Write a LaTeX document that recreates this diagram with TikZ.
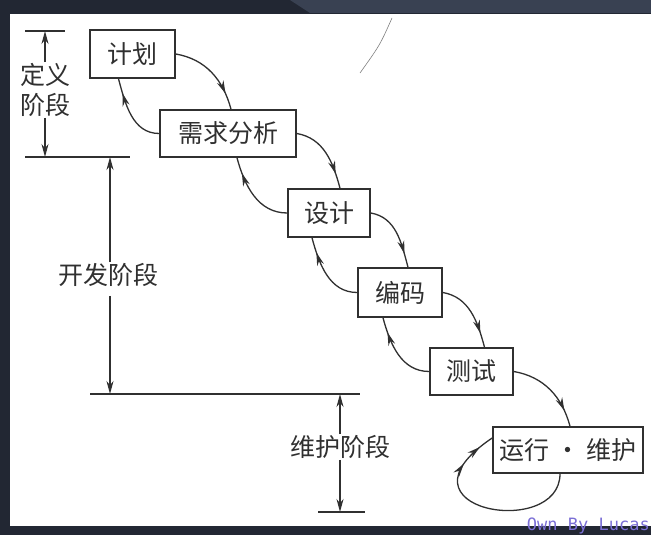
\documentclass[tikz,border=0pt]{standalone}
\usepackage{fontspec}
\newfontfamily\cjk{Noto Sans CJK SC}
\setmonofont{DejaVu Sans Mono}
\usetikzlibrary{arrows.meta,decorations.markings}
\definecolor{framedark}{HTML}{222733}
\definecolor{framelight}{HTML}{394152}
\definecolor{ink}{HTML}{303030}
\definecolor{credit}{HTML}{7B6FD6}
\tikzset{
  phase/.style={draw=ink, line width=1.6pt, fill=white, text=ink,
    font=\cjk\fontsize{25}{27}\selectfont, inner sep=0pt},
  stagetext/.style={text=ink, align=center, inner sep=1pt,
    font=\cjk\fontsize{25}{30}\selectfont},
  flow/.style={draw=ink, line width=1.3pt, postaction={decorate},
    decoration={markings, mark=at position 0.8 with
      {\arrow{Stealth[length=13pt,width=7pt]}}}},
  dim/.style={draw=ink, line width=1.3pt, -{Stealth[length=13pt,width=7pt]}},
}
\begin{document}
\begin{tikzpicture}[x=1pt,y=1pt]
  % Frame and paper
  \fill[framedark] (0,0) rectangle (651,535);
  \fill[framelight] (290,535) -- (651,535) -- (651,522) -- (310,522) -- cycle;
  \fill[white] (10,9) rectangle (651,521);
  \useasboundingbox (0,0) rectangle (651,535);
  % Stray pen stroke
  \draw[gray, line width=0.6pt] (392,517) .. controls (380,490) .. (360,462);

  % Phase boxes
  \node[phase, minimum width=85pt, minimum height=48pt] (plan) at (132.5,481) {计划};
  \node[phase, minimum width=136pt, minimum height=47pt] (req) at (228,401.5) {需求分析};
  \node[phase, minimum width=82pt, minimum height=48pt] (design) at (329,322) {设计};
  \node[phase, minimum width=84pt, minimum height=49pt] (code) at (400,242.5) {编码};
  \node[phase, minimum width=83pt, minimum height=47pt] (test) at (471.5,163.5) {测试};
  \node[phase, minimum width=150pt, minimum height=46pt] (run) at (568,85) {运行 · 维护};

  % Forward and feedback arrows
  \foreach \a/\b/\dx in {plan/req/3, req/design/11, design/code/8,
                         code/test/13, test/run/2}{
    \draw[flow] (\a.east) to[out=-10,in=105] ([xshift=\dx pt]\b.north);
  }
  \foreach \a/\b/\dx in {req/plan/-14, design/req/9, code/design/-17,
                         test/code/-17}{
    \draw[flow] (\a.west) to[out=180,in=-75] ([xshift=\dx pt]\b.south);
  }
  % Maintenance loop
  \draw[flow, decoration={markings, mark=at position 0.92 with
      {\arrow{Stealth[length=13pt,width=7pt]}}}]
    ([xshift=-8pt]run.south) .. controls (560,-5) and (385,25) .. ([yshift=12pt]run.west);

  % Phase spans on the left
  \draw[ink, line width=1.3pt] (25,504) -- (65,504);
  \draw[ink, line width=1.3pt] (25,378) -- (130,378);
  \draw[ink, line width=1.3pt] (90,141) -- (360,141);
  \draw[ink, line width=1.3pt] (318,23) -- (365,23);
  \coordinate (deftop) at (45,504);
  \coordinate (defbot) at (45,378);
  \coordinate (devtop) at (110,378);
  \coordinate (devbot) at (110,141);
  \coordinate (mnttop) at (340,141);
  \coordinate (mntbot) at (340,23);
  \node[stagetext] (define) at (45,445) {定义\\阶段};
  \node[stagetext] (develop) at (108,260) {开发阶段};
  \node[stagetext] (maintain) at (340,88) {维护阶段};
  \draw[dim] (define.north -| deftop) -- (deftop);
  \draw[dim] (define.south -| defbot) -- (defbot);
  \draw[dim] (develop.north -| devtop) -- (devtop);
  \draw[dim] ([yshift=-8pt]develop.south -| devbot) -- (devbot);
  \draw[dim] (maintain.north -| mnttop) -- (mnttop);
  \draw[dim] (maintain.south -| mntbot) -- (mntbot);

  % Credit
  \node[anchor=base east, inner sep=0pt, text=credit,
    font=\ttfamily\fontsize{17}{17}\selectfont] (credit) at (650,4) {Own By Lucas};
\end{tikzpicture}
\end{document}
